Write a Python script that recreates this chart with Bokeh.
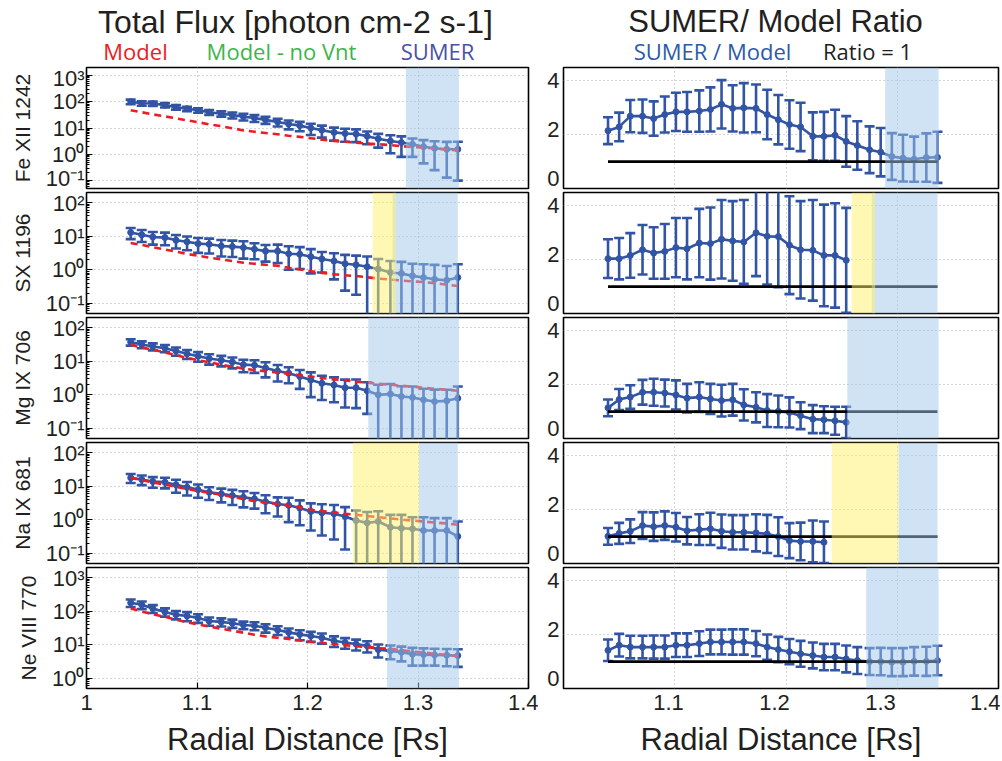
import math
from bokeh.plotting import figure
from bokeh.models import Range1d, FixedTicker, BoxAnnotation, LinearAxis
from bokeh.layouts import column, row
from bokeh.embed import file_html
from bokeh.resources import INLINE

# ---------------- data ----------------
radial = [1.040, 1.050, 1.060, 1.071, 1.081, 1.091, 1.101, 1.111, 1.122, 1.132,
          1.142, 1.152, 1.162, 1.173, 1.183, 1.193, 1.203, 1.213, 1.224, 1.234,
          1.244, 1.254, 1.264, 1.275, 1.285, 1.295, 1.305, 1.315, 1.326, 1.336]

line_names = ["Fe XII 1242", "SX 1196", "Mg IX 706", "Na IX 681", "Ne VIII 770"]

fe_sumer = [100, 87, 85, 74, 62, 54, 47, 40, 35, 31, 27, 24, 20.4, 17, 14.1, 12.3, 10, 8.3, 6.8, 6.2,
            5.9, 4.9, 3.9, 3.2, 2.8, 2.4, 1.95, 1.7, 1.55, 1.55]
fe_err = [20, 17, 16, 14, 12, 10, 9, 8.5, 8, 8, 7.8, 7, 6, 5.6, 5.2, 4.8, 4.6, 4.0, 3.5, 3.2,
          3.0, 2.5, 2.1, 2.1, 2.0, 1.6, 1.5, 1.45, 1.42, 1.45]
fe_model = [47.3, 39.8, 33.1, 27.5, 23.4, 19.5, 16.6, 13.8, 11.7, 9.8, 8.1, 7.2, 6.5, 5.75, 5.1, 4.6,
            4.1, 3.6, 3.2, 3.0, 2.78, 2.57, 2.4, 2.24, 2.04, 1.9, 1.78, 1.66, 1.51, 1.41]
fe_ratio = [2.15, 2.29, 2.69, 2.69, 2.6, 2.75, 2.85, 2.85, 2.88, 2.94, 3.13, 2.98, 3.0, 2.98, 2.75,
            2.56, 2.38, 2.29, 1.94, 1.94, 1.98, 1.75, 1.6, 1.44, 1.35, 1.19, 1.13, 1.09, 1.15, 1.16]
fe_ratio_err = [0.5, 0.53, 0.6, 0.62, 0.64, 0.67, 0.71, 0.74, 0.77, 0.82, 0.9, 0.86, 0.92, 0.89, 0.92,
                0.92, 0.9, 0.9, 0.89, 0.91, 0.95, 0.94, 0.9, 0.87, 0.9, 0.87, 0.87, 0.84, 0.9, 0.95]

sx_sumer = [12.9, 11.0, 9.5, 9.1, 7.6, 6.8, 6.0, 5.75, 5.1, 4.9, 4.6, 4.1, 3.6, 3.6, 3.0, 2.9, 2.45,
            2.1, 1.82, 1.51, 1.41, 1.23, 1.05, 0.83, 0.78, 0.66, 0.59, 0.52, 0.49, 0.59]
sx_err = [4.7, 4.3, 3.9, 3.7, 3.3, 3.0, 2.8, 2.7, 2.6, 2.5, 2.45, 2.05, 1.85, 2.0, 2.0, 1.84, 1.67,
          1.27, 1.3, 1.27, 1.23, 1.25, 1.05, 1.0, 0.94, 0.86, 0.88, 0.88, 0.81, 0.88]
sx_model = [6.3, 5.5, 4.7, 4.0, 3.47, 2.95, 2.63, 2.29, 2.04, 1.82, 1.62, 1.51, 1.41, 1.32, 1.15,
            1.02, 0.91, 0.81, 0.74, 0.69, 0.65, 0.60, 0.55, 0.51, 0.48, 0.45, 0.43, 0.40, 0.36, 0.33]
sx_ratio = [2.04, 2.04, 2.16, 2.37, 2.25, 2.31, 2.45, 2.41, 2.62, 2.6, 2.76, 2.7, 2.66, 3.0, 2.87,
            2.86, 2.54, 2.37, 2.35, 2.16, 2.16, 1.98]
sx_ratio_err = [0.72, 0.77, 0.83, 0.92, 0.96, 1.02, 1.1, 1.14, 1.27, 1.34, 1.46, 1.48, 1.56, 1.61,
                1.79, 1.88, 1.82, 1.81, 1.87, 1.89, 1.94, 1.95]

mg_sumer = [37, 31.6, 27.5, 24.5, 20, 16.6, 14.1, 12, 10.7, 9.5, 7.9, 7.6, 6.3, 5.1, 4.4, 3.5, 2.75,
            2.2, 1.95, 1.62, 1.62, 1.32, 1.0, 1.05, 0.89, 0.83, 0.71, 0.63, 0.66, 0.79]
mg_err = [8, 7.2, 6.5, 6, 5.5, 5, 4.5, 4.1, 3.7, 3.4, 3.2, 3.1, 3.0, 2.6, 2.2, 2.0, 1.9, 1.5, 1.35,
          1.2, 1.22, 1.05, 1.0, 1.05, 0.9, 0.93, 0.8, 0.8, 0.75, 0.97]
mg_model = [30.9, 25.7, 21.9, 18.2, 15.1, 12.6, 10.7, 9.3, 7.9, 6.9, 6.0, 5.5, 5.0, 4.6, 4.2, 3.8,
            3.5, 3.16, 2.88, 2.69, 2.45, 2.29, 2.14, 2.0, 1.86, 1.74, 1.62, 1.51, 1.41, 1.32]
mg_ratio = [1.14, 1.45, 1.54, 1.72, 1.72, 1.69, 1.62, 1.5, 1.54, 1.47, 1.41, 1.44, 1.25, 1.16, 1.04,
            1.01, 0.97, 0.85, 0.72, 0.7, 0.66, 0.6]
mg_ratio_err = [0.31, 0.39, 0.44, 0.46, 0.5, 0.5, 0.54, 0.53, 0.55, 0.56, 0.59, 0.59, 0.58, 0.56,
                0.61, 0.59, 0.56, 0.5, 0.52, 0.5, 0.52, 0.58]

na_sumer = [17.8, 15.8, 13.8, 13.2, 11.0, 9.3, 7.9, 6.6, 5.9, 5.25, 4.7, 4.2, 3.47, 2.95, 2.7, 2.24,
            1.78, 1.62, 1.51, 1.26, 0.95, 0.81, 0.89, 0.6, 0.56, 0.54, 0.48, 0.48, 0.48, 0.32]
na_err = [5.3, 5.0, 4.8, 4.6, 4.6, 4.0, 3.35, 2.7, 2.6, 2.5, 2.35, 2.05, 1.9, 1.7, 1.85, 1.55, 1.3,
          1.28, 1.25, 1.13, 0.95, 0.9, 0.9, 0.8, 0.84, 0.65, 0.71, 0.64, 0.64, 0.57]
na_model = [17.8, 15.1, 12.9, 11.2, 9.55, 8.3, 7.2, 6.3, 5.6, 4.8, 4.2, 3.6, 3.24, 2.95, 2.63, 2.34,
            2.0, 1.82, 1.66, 1.51, 1.41, 1.29, 1.2, 1.1, 1.02, 0.95, 0.89, 0.83, 0.78, 0.71]
na_ratio = [1.01, 1.12, 1.2, 1.41, 1.37, 1.41, 1.35, 1.22, 1.26, 1.29, 1.2, 1.16, 1.16, 1.14, 1.1,
            1.0, 0.85, 0.82, 0.82, 0.79]
na_ratio_err = [0.31, 0.39, 0.44, 0.5, 0.53, 0.53, 0.53, 0.51, 0.57, 0.6, 0.62, 0.64, 0.64, 0.69,
                0.71, 0.72, 0.65, 0.7, 0.78, 0.77]

ne_sumer = [178, 155, 120, 95, 79, 72, 63, 51, 48, 44, 39, 37, 32, 27.5, 23.4, 20.4, 18.2, 16.2,
            13.2, 11.7, 10.5, 9.3, 7.2, 6.6, 6.0, 5.25, 5.1, 5.0, 4.9, 4.8]
ne_err = [45, 40, 32, 26, 22, 22, 18, 14, 13, 12, 10, 10, 9, 8, 7.2, 6.7, 6, 5.4, 4.6, 4.1, 3.75,
          3.4, 3.0, 2.9, 2.8, 2.85, 2.7, 2.6, 2.6, 2.6]
ne_model = [120, 98, 81, 68, 56, 47, 40, 35, 30, 26.3, 22.9, 20, 17.8, 16.2, 14.8, 13.5, 12.3, 11.5,
            10.5, 9.8, 9.1, 8.5, 7.9, 7.6, 6.9, 6.3, 5.9, 5.4, 5.0, 4.6]
ne_ratio = [1.42, 1.61, 1.54, 1.54, 1.54, 1.54, 1.61, 1.61, 1.67, 1.73, 1.73, 1.73, 1.73, 1.67, 1.54,
            1.45, 1.37, 1.29, 1.23, 1.17, 1.17, 1.10, 1.04, 1.0, 1.0, 0.98, 0.98, 1.01, 1.01, 1.04]
ne_ratio_err = [0.40, 0.42, 0.42, 0.42, 0.43, 0.43, 0.44, 0.44, 0.46, 0.46, 0.46, 0.47, 0.47, 0.47,
                0.47, 0.47, 0.47, 0.48, 0.48, 0.49, 0.49, 0.5, 0.5, 0.5, 0.51, 0.52, 0.52, 0.53,
                0.54, 0.55]

# shaded intervals (radial distance)
blue_bands = [(1.289, 1.337), (1.277, 1.336), (1.255, 1.337), (1.301, 1.336), (1.272, 1.337)]
yellow_bands = [None, (1.259, 1.280), None, (1.241, 1.301), None]

flux_ranges = [(0.05, 2000), (0.05, 200), (0.05, 200), (0.05, 200), (0.5, 2000)]
flux_ticks = [[0.1, 1, 10, 100, 1000], [0.1, 1, 10, 100], [0.1, 1, 10, 100],
              [0.1, 1, 10, 100], [1, 10, 100, 1000]]
flux_labels = {0.1: "10\u207b\u00b9", 1: "10\u2070", 10: "10\u00b9", 100: "10\u00b2", 1000: "10\u00b3"}
x_ticks = [1.0, 1.1, 1.2, 1.3, 1.4]
ratio_range = (0.0, 4.5)
ratio_ticks = [0, 2, 4]
ratio_one = 1.0

sumer_all = [fe_sumer, sx_sumer, mg_sumer, na_sumer, ne_sumer]
err_all = [fe_err, sx_err, mg_err, na_err, ne_err]
model_all = [fe_model, sx_model, mg_model, na_model, ne_model]
ratio_all = [fe_ratio, sx_ratio, mg_ratio, na_ratio, ne_ratio]
ratio_err_all = [fe_ratio_err, sx_ratio_err, mg_ratio_err, na_ratio_err, ne_ratio_err]

# ---------------- style ----------------
BLUE = "#3154a5"
RED = "#ec1c24"
GREEN = "#3db54a"
TXT = "#231f20"
FONT = "Liberation Sans"
LEG_FONT = "Open Sans"
BLUE_BAND = "#9fc7eb"
YELLOW_BAND = "#fdf169"

LW, RW = 442, 435
FH = 121
HEAD_H = 65
L_LEFT, L_RIGHT = 86, 10
R_LEFT, R_RIGHT = 25, 2
PX_PER_UNIT = 1113.0          # horizontal scale of the ratio panels
# where the reference prints its ratio-panel x tick labels (px from the frame's left edge)
LABEL_PX_11, LABEL_PX_14 = 105.0, 423.0
# the reference lifts the "0" label of the ratio panels above the frame's bottom edge
ZERO_LIFT = 10.0


def style_common(p):
    p.outline_line_color = "black"
    p.outline_line_width = 1.6
    p.outline_line_alpha = 1.0
    p.background_fill_color = "white"
    p.border_fill_color = "white"
    for g in p.grid:
        g.grid_line_color = "#a8a8a8"
        g.grid_line_dash = "1 3"
        g.grid_line_width = 1
    p.xgrid.ticker = FixedTicker(ticks=x_ticks[1:])
    for ax in p.axis:
        style_axis(ax)


def style_axis(ax):
    ax.axis_line_color = None
    ax.major_tick_in = 6
    ax.major_tick_out = 0
    ax.major_tick_line_color = "black"
    ax.major_tick_line_width = 1.2
    ax.minor_tick_in = 3
    ax.minor_tick_out = 0
    ax.major_label_text_font = FONT
    ax.major_label_text_font_size = "22px"
    ax.major_label_text_color = TXT


def style_xlabel(xax):
    xax.axis_label = "Radial Distance [Rs]"
    xax.axis_label_text_font = FONT
    xax.axis_label_text_font_size = "31px"
    xax.axis_label_text_font_style = "normal"
    xax.axis_label_text_color = TXT
    xax.axis_label_standoff = 9
    xax.major_label_standoff = 6


def add_bands(p, i):
    b = blue_bands[i]
    p.add_layout(BoxAnnotation(left=b[0], right=b[1], fill_color=BLUE_BAND, fill_alpha=0.5,
                               line_color=None, level="overlay"))
    y = yellow_bands[i]
    if y is not None:
        p.add_layout(BoxAnnotation(left=y[0], right=y[1], fill_color=YELLOW_BAND, fill_alpha=0.5,
                                   line_color=None, level="overlay"))


def draw_errorbars(p, xs, vals, errs, floor):
    hi = [v + e for v, e in zip(vals, errs)]
    lo = [v - e for v, e in zip(vals, errs)]
    lo_bar = [l if l > 0 else floor for l in lo]
    lo_cap = [l if l > 0 else float("nan") for l in lo]
    p.segment(x0=xs, y0=lo_bar, x1=xs, y1=hi, line_color=BLUE, line_width=2.6)
    p.scatter(x=xs, y=hi, marker="dash", size=10, line_color=BLUE, line_width=2.6)
    p.scatter(x=xs, y=lo_cap, marker="dash", size=10, line_color=BLUE, line_width=2.6)


def left_panel(i, last):
    p = figure(frame_width=LW, frame_height=FH, x_range=Range1d(x_ticks[0], x_ticks[-1]),
               y_range=Range1d(*flux_ranges[i]), y_axis_type="log",
               x_axis_location="below" if last else None,
               min_border_left=L_LEFT, min_border_right=L_RIGHT, min_border_top=2,
               min_border_bottom=70 if last else 2,
               output_backend="svg", toolbar_location=None, title=None)
    style_common(p)
    yax = p.yaxis[0]
    minors = [m * 10.0 ** k for k in range(-2, 4) for m in range(2, 10)]
    yax.ticker = FixedTicker(ticks=flux_ticks[i], minor_ticks=minors)
    p.ygrid.ticker = FixedTicker(ticks=flux_ticks[i])
    yax.major_label_overrides = {t: flux_labels[t] for t in flux_ticks[i]}
    yax.axis_label = line_names[i]
    yax.axis_label_text_font = FONT
    yax.axis_label_text_font_size = "21px"
    yax.axis_label_text_font_style = "normal"
    yax.axis_label_text_color = TXT
    yax.axis_label_standoff = 9
    yax.major_label_standoff = 2
    if last:
        xax = p.xaxis[0]
        xax.ticker = FixedTicker(ticks=x_ticks, minor_ticks=[])
        xax.major_label_overrides = {1.0: "1"}
        style_xlabel(xax)

    draw_errorbars(p, radial, sumer_all[i], err_all[i], 1e-6)
    p.line(radial, sumer_all[i], line_color=BLUE, line_width=2.6)
    p.scatter(radial, sumer_all[i], size=6, fill_color=BLUE, line_color=BLUE)
    p.line(radial, model_all[i], line_color=RED, line_width=2.6, line_dash="7 5")
    add_bands(p, i)
    return p


def right_panel(i, last):
    x_end = x_ticks[0] + RW / PX_PER_UNIT
    p = figure(frame_width=RW, frame_height=FH, x_range=Range1d(x_ticks[0], x_end),
               y_range=Range1d(*ratio_range),
               x_axis_location=None, y_axis_location=None,
               min_border_left=R_LEFT, min_border_right=R_RIGHT, min_border_top=1,
               min_border_bottom=70 if last else 3,
               output_backend="svg", toolbar_location=None, title=None)
    style_common(p)
    p.ygrid.ticker = FixedTicker(ticks=ratio_ticks)

    # y labels: same positions as the data scale, except "0" which sits a bit higher
    span = ratio_range[1] - ratio_range[0]
    top_px = (ratio_ticks[-1] - ratio_range[0]) / span * FH
    lab_span = ratio_ticks[-1] / ((top_px - ZERO_LIFT) / FH)
    lab_lo = -ZERO_LIFT / FH * lab_span
    p.extra_y_ranges = {"ylabels": Range1d(lab_lo, lab_lo + lab_span)}
    yl = LinearAxis(y_range_name="ylabels", ticker=FixedTicker(ticks=ratio_ticks, minor_ticks=[]))
    style_axis(yl)
    yl.major_tick_line_color = None
    yl.minor_tick_line_color = None
    yl.major_label_standoff = 4
    p.add_layout(yl, "left")

    if last:
        # x labels placed like the reference's labels (so that "1.4" fits)
        lab_scale = (LABEL_PX_14 - LABEL_PX_11) / (x_ticks[4] - x_ticks[1])
        lab_start = x_ticks[1] - LABEL_PX_11 / lab_scale
        p.extra_x_ranges = {"xlabels": Range1d(lab_start, lab_start + RW / lab_scale)}
        lab = LinearAxis(x_range_name="xlabels",
                         ticker=FixedTicker(ticks=x_ticks[1:], minor_ticks=[]))
        style_axis(lab)
        lab.major_tick_line_color = None
        lab.minor_tick_line_color = None
        style_xlabel(lab)
        p.add_layout(lab, "below")

    n = len(ratio_all[i])
    xs = radial[:n]
    draw_errorbars(p, xs, ratio_all[i], ratio_err_all[i], -10)
    p.line(xs, ratio_all[i], line_color=BLUE, line_width=2.6)
    p.scatter(xs, ratio_all[i], size=6, fill_color=BLUE, line_color=BLUE)
    p.line(radial, [ratio_one] * len(radial), line_color="black", line_width=2.6)
    add_bands(p, i)
    return p


def header(width, items):
    h = figure(frame_width=width, frame_height=HEAD_H, x_range=Range1d(0, width),
               y_range=Range1d(0, HEAD_H), x_axis_location=None, y_axis_location=None,
               min_border=0, output_backend="svg", toolbar_location=None, title=None)
    h.outline_line_color = None
    h.grid.visible = False
    for (x, y, txt, color, font, size) in items:
        h.text(x=[x], y=[y], text=[txt], text_color=color, text_font={"value": font},
               text_font_size=size, text_align="center", text_baseline="middle")
    return h


LEFT_TOTAL = L_LEFT + LW + L_RIGHT
RIGHT_TOTAL = R_LEFT + RW + R_RIGHT

hl = header(LEFT_TOTAL, [
    (295, 44, "Total Flux [photon cm-2 s-1]", TXT, FONT, "32px"),
    (135, 15, "Model", RED, LEG_FONT, "22px"),
    (281, 15, "Model - no Vnt", GREEN, LEG_FONT, "22px"),
    (437, 15, "SUMER", "#4a51a5", LEG_FONT, "22px"),
])
hr = header(RIGHT_TOTAL, [
    (237, 44, "SUMER/ Model Ratio", TXT, FONT, "31px"),
    (174, 15, "SUMER / Model", "#2d5aa8", LEG_FONT, "22px"),
    (329, 15, "Ratio = 1", TXT, LEG_FONT, "22px"),
])

rows = [row(hl, hr)]
for i in range(5):
    last = (i == 4)
    rows.append(row(left_panel(i, last), right_panel(i, last)))

layout = column(*rows)
open("out.html", "w").write(file_html(layout, INLINE))
